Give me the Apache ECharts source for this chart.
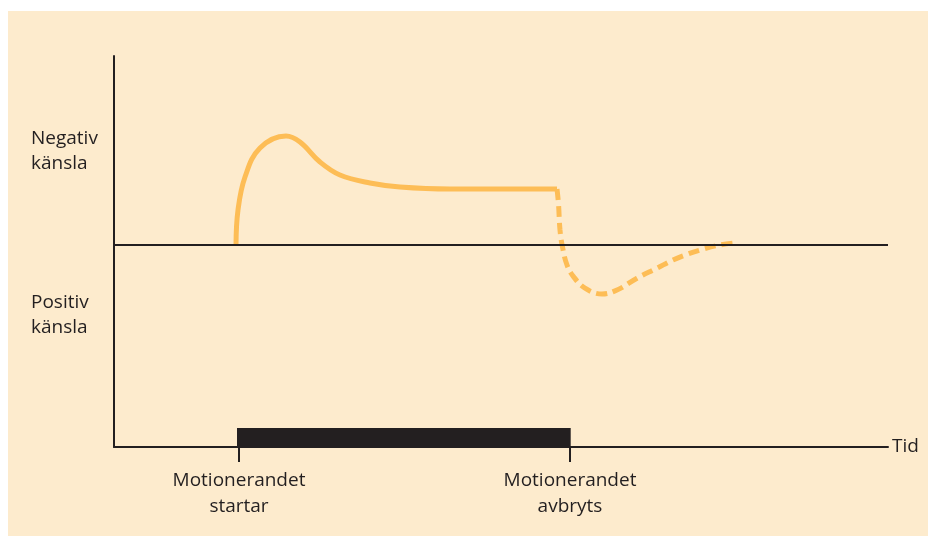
<!DOCTYPE html>
<html>
<head>
<meta charset="utf-8">
<script src="https://cdn.jsdelivr.net/npm/echarts@6/dist/echarts.min.js"></script>
<style>
  html, body { margin: 0; padding: 0; background: #ffffff; }
  #panel { position: absolute; left: 8px; top: 11px; width: 920px; height: 525px; background: #fdebcd; }
  #chart { position: absolute; left: 0; top: 0; width: 930px; height: 544px; }
</style>
</head>
<body>
<div id="panel"></div>
<div id="chart"></div>
<script>
// tidsmarkeringar på x-axeln
const tickMarks = [12.5, 45.6];
const tickLabels = ['Motionerandet\nstartar', 'Motionerandet\navbryts'];

// känslonivåer på y-axeln
const feelingLevels = [47, -35];
const feelingLabels = ['Negativ\nkänsla', 'Positiv\nkänsla'];

// perioden då man motionerar (svart stapel)
const exerciseStart = 12.3;
const exerciseEnd = 45.67;
const exerciseTop = -91.5;

// känslan under motionen
const duringExercise = [
  [12.2, 0], [12.4, 17.5], [13.1, 34], [14.6, 48.5], [17.2, 54.5],
  [18.6, 51.5], [20.6, 41.5], [22.6, 35], [25.6, 31], [28.6, 29],
  [33.6, 28], [44.3, 28]
];

// känslan efter att motionen avbryts
const afterExercise = [
  [44.3, 28], [44.45, 20.5], [44.6, 7.5], [44.85, -1], [45.3, -10],
  [45.95, -15.8], [47.1, -21.6], [48.8, -24.5], [50.3, -22.5], [52.3, -16.6],
  [54.3, -11.6], [55.9, -7.5], [57.4, -4.5], [58.9, -2.1], [60.6, 0], [62.3, 1.2]
];

const ink = '#231f20';
const curveColor = '#fdbd56';
const font = '"Open Sans", "Noto Sans", sans-serif';

const chart = echarts.init(document.getElementById('chart'));
chart.setOption({
  animation: false,
  backgroundColor: 'transparent',
  textStyle: { fontFamily: font },
  grid: { left: 114, top: 56, right: 42, bottom: 97 },
  xAxis: {
    type: 'value',
    min: 0,
    max: 77.4,
    name: 'Tid',
    nameLocation: 'end',
    nameGap: 4,
    nameTextStyle: { color: ink, fontSize: 19, fontFamily: font, verticalAlign: 'middle' },
    splitLine: { show: false },
    axisLine: { show: true, onZero: false, lineStyle: { color: ink, width: 2 } },
    axisTick: { show: true, customValues: tickMarks, length: 15, lineStyle: { color: ink, width: 2 } },
    axisLabel: {
      customValues: tickMarks,
      margin: 21,
      color: ink,
      fontSize: 19,
      lineHeight: 26,
      align: 'center',
      formatter: function (v) {
        const i = tickMarks.indexOf(v);
        return i >= 0 ? tickLabels[i] : '';
      }
    }
  },
  yAxis: {
    type: 'value',
    min: -101,
    max: 94.5,
    splitLine: { show: false },
    axisLine: { show: true, onZero: false, lineStyle: { color: ink, width: 2 } },
    axisTick: { show: false },
    axisLabel: {
      customValues: feelingLevels,
      margin: 83,
      align: 'left',
      color: ink,
      fontSize: 19,
      lineHeight: 25,
      formatter: function (v) {
        const i = feelingLevels.indexOf(v);
        return i >= 0 ? feelingLabels[i] : '';
      }
    }
  },
  series: [
    {
      name: 'Under motion',
      type: 'line',
      data: duringExercise,
      smooth: 0.4,
      showSymbol: false,
      lineStyle: { color: curveColor, width: 5, cap: 'butt' },
      z: 3,
      markLine: {
        silent: true,
        symbol: ['none', 'none'],
        label: { show: false },
        lineStyle: { color: ink, width: 2, type: 'solid' },
        data: [{ yAxis: 0 }]
      },
      markArea: {
        silent: true,
        itemStyle: { color: ink },
        data: [[{ coord: [exerciseStart, exerciseTop] }, { coord: [exerciseEnd, -101] }]]
      }
    },
    {
      name: 'Efter motion',
      type: 'line',
      data: afterExercise,
      smooth: 0.4,
      showSymbol: false,
      lineStyle: { color: curveColor, width: 5, type: [11, 6], cap: 'butt' },
      z: 3
    }
  ]
});
</script>
</body>
</html>
